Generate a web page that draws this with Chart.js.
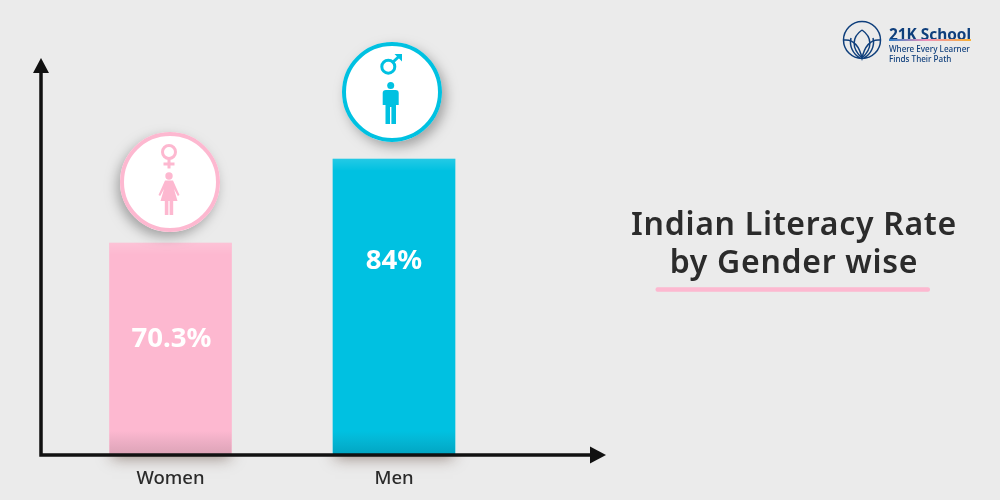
<!DOCTYPE html>
<html>
<head>
<meta charset="utf-8">
<style>
  html, body { margin: 0; padding: 0; background: #ebebeb; }
  canvas { display: block; }
</style>
<script src="https://cdn.jsdelivr.net/npm/chart.js@4/dist/chart.umd.min.js"></script>
</head>
<body>
<canvas id="literacyChart" width="1000" height="500"></canvas>
<script>
const genders = ["Women", "Men"];
const literacyRates = [70.3, 84];
const rateLabels = ["70.3%", "84%"];
const titleLines = ["Indian Literacy Rate", "by Gender wise"];
const logoName = "21K School";
const logoTagline = ["Where Every Learner", "Finds Their Path"];

const PINK = "#fdb8d0";
const CYAN = "#00c1e1";
const barColors = [PINK, CYAN];
const FONT = '"Noto Sans", "Open Sans", sans-serif';
const NAVY = "#0f3f7c";

// label and badge distance from each bar's top
const labelOffset = [96.5, 102];
const badgeOffset = [61, 67];
const badgeShift = [-0.5, -2];

function drawFemale(c, col) {
  c.strokeStyle = col; c.fillStyle = col; c.lineWidth = 3;
  c.beginPath(); c.arc(-1, -30, 6.5, 0, Math.PI * 2); c.stroke();
  c.fillRect(-2.5, -23, 3, 9.5);
  c.fillRect(-6.5, -19.5, 11, 3);
  c.beginPath(); c.arc(-1, -6, 3.7, 0, Math.PI * 2); c.fill();
  c.beginPath();
  c.moveTo(-5, -1.5); c.lineTo(3, -1.5); c.lineTo(9.5, 13); c.lineTo(7.8, 14);
  c.lineTo(4, 7); c.lineTo(7.5, 19); c.lineTo(-9.5, 19); c.lineTo(-6, 7);
  c.lineTo(-9.8, 14); c.lineTo(-11.5, 13);
  c.closePath(); c.fill();
  c.fillRect(-5.2, 19, 3.6, 14);
  c.fillRect(-0.4, 19, 3.6, 14);
}

function drawMale(c, col) {
  c.strokeStyle = col; c.fillStyle = col; c.lineWidth = 3;
  c.beginPath(); c.arc(-3.7, -25.3, 6.5, 0, Math.PI * 2); c.stroke();
  c.beginPath(); c.moveTo(1, -30); c.lineTo(8, -36.5); c.stroke();
  c.beginPath(); c.moveTo(2.5, -38); c.lineTo(10, -38); c.lineTo(10, -30.5); c.closePath(); c.fill();
  c.beginPath(); c.arc(-1.3, -6.5, 3.5, 0, Math.PI * 2); c.fill();
  c.beginPath();
  c.moveTo(-6, -2); c.lineTo(3.5, -2); c.quadraticCurveTo(6.7, -2, 6.7, 1);
  c.lineTo(6.7, 13); c.lineTo(4, 13);
  c.lineTo(4, 32); c.lineTo(-0.6, 32);
  c.lineTo(-0.6, 15); c.lineTo(-2, 15); c.lineTo(-2, 32); c.lineTo(-6.5, 32);
  c.lineTo(-6.5, 13); c.lineTo(-9.3, 13); c.lineTo(-9.3, 1);
  c.quadraticCurveTo(-9.3, -2, -6, -2);
  c.closePath(); c.fill();
}

function drawBadge(c, x, y, r, col, shadowX, icon) {
  c.save();
  c.shadowColor = "rgba(0,0,0,0.3)";
  c.shadowBlur = 12;
  c.shadowOffsetX = shadowX;
  c.shadowOffsetY = 5;
  c.fillStyle = "#fff";
  c.beginPath(); c.arc(x, y, r, 0, Math.PI * 2); c.fill();
  c.restore();
  c.save();
  c.strokeStyle = col;
  c.lineWidth = 4;
  c.beginPath(); c.arc(x, y, r - 2, 0, Math.PI * 2); c.stroke();
  c.translate(x, y);
  icon(c, col);
  c.restore();
}

function drawLogo(c) {
  c.save();
  c.strokeStyle = NAVY; c.fillStyle = NAVY; c.lineWidth = 1.5;
  c.beginPath(); c.arc(862, 40, 18.5, 0, Math.PI * 2); c.stroke();
  c.translate(862, 40);
  // centre petal
  c.beginPath();
  c.moveTo(0, -10); c.bezierCurveTo(-10, -3, -11, 8, 0, 18);
  c.bezierCurveTo(11, 8, 10, -3, 0, -10); c.stroke();
  // outer petals
  c.beginPath();
  c.moveTo(-18, 0); c.bezierCurveTo(-9, -1, -3, 5, 0, 18);
  c.bezierCurveTo(3, 5, 9, -1, 18, 0); c.stroke();
  c.beginPath();
  c.moveTo(-11, -2); c.bezierCurveTo(-13, 6, -9, 14, -2, 18);
  c.moveTo(11, -2); c.bezierCurveTo(13, 6, 9, 14, 2, 18); c.stroke();
  c.restore();

  c.save();
  c.fillStyle = NAVY;
  c.textAlign = "left";
  c.font = "700 15.4px " + FONT;
  c.fillText(logoName, 889, 35.5);
  const g = c.createLinearGradient(889, 0, 971, 0);
  g.addColorStop(0, "#2e7fc8");
  g.addColorStop(0.45, "#f08fb8");
  g.addColorStop(1, "#f9b233");
  c.fillStyle = g;
  c.fillRect(889, 39, 82, 2);
  c.fillStyle = NAVY;
  c.font = "500 8.1px " + FONT;
  c.fillText(logoTagline[0], 889, 50);
  c.fillText(logoTagline[1], 889, 59.5);
  c.restore();
}

const decorations = {
  id: "decorations",
  beforeDatasetsDraw(chart) {
    const c = chart.ctx;
    const { bottom } = chart.chartArea;
    const bars = chart.getDatasetMeta(0).data;
    // soft shadow that falls below the bars
    bars.forEach((bar) => {
      c.save();
      c.beginPath();
      c.rect(bar.x - 100, bottom, 200, 40);
      c.clip();
      c.shadowColor = "rgba(70,40,25,0.5)";
      c.shadowBlur = 14;
      c.shadowOffsetY = 3;
      c.fillStyle = "#555";
      c.fillRect(bar.x - bar.width / 2 + 2, bar.y, bar.width - 4, bottom - bar.y);
      c.restore();
    });
  },
  afterDatasetsDraw(chart) {
    const c = chart.ctx;
    const { left, bottom, top } = chart.chartArea;
    const bars = chart.getDatasetMeta(0).data;

    bars.forEach((bar, i) => {
      const x0 = bar.x - bar.width / 2;
      let g = c.createLinearGradient(0, bottom - 24, 0, bottom);
      g.addColorStop(0, "rgba(60,70,80,0)");
      g.addColorStop(1, i === 0 ? "rgba(90,80,80,0.2)" : "rgba(0,60,80,0.22)");
      c.fillStyle = g;
      c.fillRect(x0, bottom - 24, bar.width, 24);
      g = c.createLinearGradient(0, bar.y, 0, bar.y + 12);
      g.addColorStop(0, "rgba(255,255,255,0.14)");
      g.addColorStop(1, "rgba(255,255,255,0)");
      c.fillStyle = g;
      c.fillRect(x0, bar.y, bar.width, 12);

      c.fillStyle = "#fff";
      c.textAlign = "center";
      c.textBaseline = "middle";
      c.font = "700 27.6px " + FONT;
      c.fillText(rateLabels[i], bar.x + (i === 0 ? 1 : 0), bar.y + labelOffset[i]);

      drawBadge(c, bar.x + badgeShift[i], bar.y - badgeOffset[i], 50,
        barColors[i], i === 0 ? -3 : 4, i === 0 ? drawFemale : drawMale);
    });

    // axes with arrow heads, reaching past the plot area
    const ax = left - 17.75, ay = bottom;
    c.save();
    c.strokeStyle = "#111"; c.fillStyle = "#111"; c.lineWidth = 3.5;
    c.beginPath();
    c.moveTo(ax, top + 10); c.lineTo(ax, ay); c.lineTo(592, ay);
    c.stroke();
    c.beginPath(); c.moveTo(ax, top - 3); c.lineTo(ax - 8, top + 12); c.lineTo(ax + 8, top + 12); c.closePath(); c.fill();
    c.beginPath(); c.moveTo(606, ay); c.lineTo(590, ay - 8.5); c.lineTo(590, ay + 8.5); c.closePath(); c.fill();
    c.restore();

    // title block
    c.save();
    c.fillStyle = "#2b2b2b";
    c.textAlign = "center";
    c.textBaseline = "middle";
    c.font = "600 32px " + FONT;
    c.letterSpacing = "0.7px";
    c.fillText(titleLines[0], 794, 225.5);
    c.fillText(titleLines[1], 794, 264);
    c.letterSpacing = "0px";
    c.fillStyle = PINK;
    c.beginPath();
    c.roundRect(655.5, 287.3, 274.5, 4.4, 2);
    c.fill();
    c.restore();

    drawLogo(c);
  }
};

new Chart("literacyChart", {
  type: "bar",
  data: {
    labels: genders,
    datasets: [
      {
        data: literacyRates,
        backgroundColor: barColors,
        barThickness: 122,
      },
    ],
  },
  options: {
    responsive: false,
    animation: false,
    layout: { padding: { left: 58.75, right: 494.25, top: 60.9, bottom: 0 } },
    plugins: { legend: { display: false }, title: { display: false }, tooltip: { enabled: false } },
    scales: {
      x: {
        grid: { display: false },
        border: { display: false },
        afterFit: (s) => { s.height = 45; },
        ticks: { color: "#2b2b2b", font: { family: FONT, size: 18.5, weight: "500" }, padding: 5, maxRotation: 0 },
      },
      y: { display: false, min: 35.72, max: 100 },
    },
  },
  plugins: [decorations],
});
</script>
</body>
</html>
